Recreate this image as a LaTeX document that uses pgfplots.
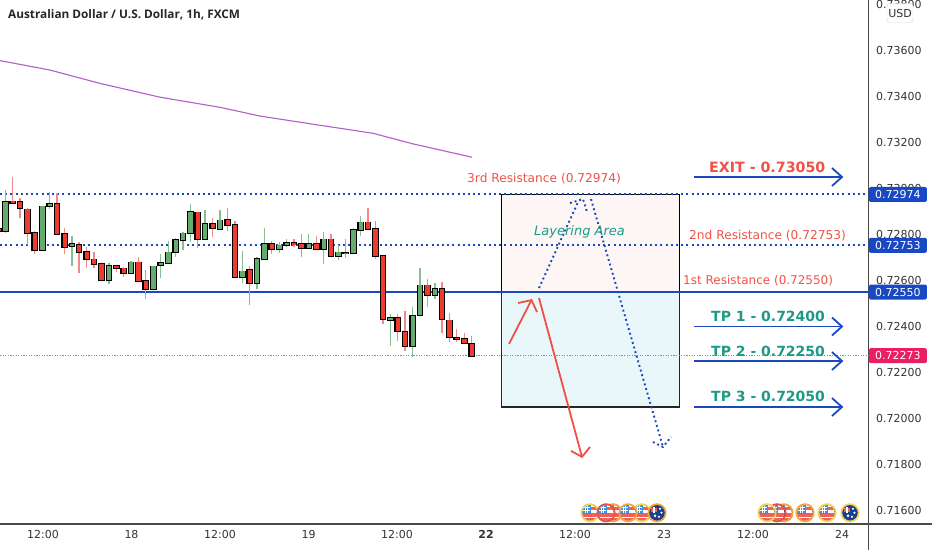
\documentclass[border=0pt]{standalone}
\usepackage{fontspec}
\setmainfont{DejaVu Sans}
\newfontfamily\titlefont{Open Sans}
\usepackage{pgfplots}
\usepackage{pgfplotstable}
\pgfplotsset{compat=1.18}

\definecolor{upbody}{HTML}{66AB6E}
\definecolor{upwick}{HTML}{88BE92}
\definecolor{dnbody}{HTML}{EE3B2E}
\definecolor{dnwick}{HTML}{F08A88}
\definecolor{lineblue}{HTML}{1A48BE}
\definecolor{tagblue}{HTML}{1848C4}
\definecolor{tagpink}{HTML}{E91E63}
\definecolor{teal2}{HTML}{1C9A86}
\definecolor{red2}{HTML}{EE5247}
\definecolor{maline}{HTML}{B15FC4}
\definecolor{axisgray}{HTML}{4A4A4A}
\definecolor{ringy}{HTML}{F7D352}
\definecolor{ringo}{HTML}{F4A63A}
\definecolor{ringr}{HTML}{E8503F}
\definecolor{zonetop}{HTML}{FEF6F4}
\definecolor{zonebot}{HTML}{E9F7FB}
\definecolor{flagblue}{HTML}{3F8FD8}
\definecolor{flagnavy}{HTML}{17408F}
\definecolor{flagred}{HTML}{F0605A}

% x column is the horizontal chart position of the bar
\pgfplotstableread{
x open high low close
5.3 0.72815 0.72993 0.72807 0.72941
42.3 0.72733 0.72924 0.72728 0.72924
49.7 0.72924 0.72985 0.72911 0.72933
72 0.72750 0.72794 0.72663 0.72759
109 0.72602 0.72676 0.72585 0.72663
131 0.72633 0.72685 0.72628 0.72680
153.3 0.72563 0.72663 0.72563 0.72663
160.7 0.72667 0.72715 0.72611 0.72676
168.3 0.72676 0.72772 0.72672 0.72724
175.7 0.72724 0.72785 0.72702 0.72776
183 0.72776 0.72811 0.72733 0.72807
190.3 0.72807 0.72933 0.72767 0.72898
205 0.72780 0.72907 0.72780 0.72846
220 0.72824 0.72907 0.72824 0.72863
242.3 0.72615 0.72728 0.72589 0.72641
257 0.72589 0.72702 0.72563 0.72693
264.3 0.72693 0.72828 0.72693 0.72759
279.3 0.72737 0.72767 0.72720 0.72754
286.7 0.72754 0.72780 0.72746 0.72763
308.7 0.72741 0.72802 0.72741 0.72759
323.7 0.72737 0.72811 0.72672 0.72780
338.3 0.72707 0.72754 0.72689 0.72724
353.3 0.72720 0.72828 0.72715 0.72820
360.7 0.72820 0.72880 0.72794 0.72854
390.3 0.72428 0.72454 0.72315 0.72437
412.7 0.72315 0.72485 0.72267 0.72446
420 0.72450 0.72654 0.72450 0.72580
435 0.72537 0.72589 0.72520 0.72563
}\upbars

\pgfplotstableread{
x open high low close
-1 0.72824 0.72824 0.72815 0.72815
12.7 0.72945 0.73050 0.72937 0.72937
20 0.72941 0.72959 0.72872 0.72915
27.3 0.72911 0.72915 0.72754 0.72807
34.7 0.72807 0.72815 0.72715 0.72733
57 0.72933 0.72980 0.72802 0.72802
64.7 0.72802 0.72828 0.72715 0.72746
79 0.72754 0.72767 0.72633 0.72724
86.7 0.72724 0.72746 0.72654 0.72693
94 0.72693 0.72724 0.72654 0.72672
101.3 0.72672 0.72676 0.72602 0.72602
116.3 0.72663 0.72667 0.72637 0.72654
123.7 0.72654 0.72659 0.72615 0.72633
138.3 0.72680 0.72702 0.72598 0.72598
145.7 0.72598 0.72646 0.72520 0.72563
197.7 0.72898 0.72898 0.72741 0.72780
212.7 0.72846 0.72872 0.72789 0.72828
227.7 0.72863 0.72915 0.72815 0.72841
235 0.72841 0.72859 0.72615 0.72615
249.7 0.72646 0.72663 0.72493 0.72589
271.7 0.72759 0.72772 0.72715 0.72737
294 0.72763 0.72780 0.72746 0.72757
301.3 0.72759 0.72802 0.72702 0.72741
316.3 0.72759 0.72794 0.72733 0.72737
331 0.72780 0.72802 0.72707 0.72707
345.7 0.72722 0.72780 0.72698 0.72718
368 0.72854 0.72915 0.72824 0.72824
375.3 0.72824 0.72859 0.72693 0.72707
383 0.72707 0.72707 0.72411 0.72433
397.7 0.72437 0.72454 0.72337 0.72380
405 0.72376 0.72467 0.72293 0.72315
427.3 0.72580 0.72607 0.72485 0.72537
442 0.72563 0.72593 0.72372 0.72433
449.3 0.72428 0.72459 0.72333 0.72354
456.7 0.72352 0.72389 0.72333 0.72346
464.3 0.72346 0.72372 0.72324 0.72328
471.7 0.72324 0.72359 0.72272 0.72272
}\dnbars

% wicks then black outline then coloured body
\newcommand\candles[3]{%
  \addplot[draw=none, forget plot, error bars/.cd, y dir=both, y explicit, error mark=none,
    error bar style={draw=#2, line width=1.4pt, line cap=butt, solid}]
    table[x=x, y expr=(\thisrow{high}+\thisrow{low})/2, y error expr=(\thisrow{high}-\thisrow{low})/2] {#1};
  \addplot[draw=none, forget plot, error bars/.cd, y dir=both, y explicit, error mark=none,
    error bar style={draw=black, line width=6.6pt, line cap=butt, solid}]
    table[x=x, y expr=(\thisrow{open}+\thisrow{close})/2, y error expr=abs(\thisrow{open}-\thisrow{close})/2+0.00003] {#1};
  \addplot[draw=none, forget plot, error bars/.cd, y dir=both, y explicit, error mark=none,
    error bar style={draw=#3, line width=4.4pt, line cap=butt, solid}]
    table[x=x, y expr=(\thisrow{open}+\thisrow{close})/2, y error expr=abs(\thisrow{open}-\thisrow{close})/2] {#1};
}

% event badges along the bottom of the chart
\newcommand\declareusflag[2]{%
  \pgfdeclareplotmark{#1}{%
    \begin{scope}
      \clip (0pt,0pt) circle (7.8pt);
      \fill[white] (-8pt,-8pt) rectangle (8pt,8pt);
      \fill[flagred] (0pt,3.6pt) rectangle (8pt,5.6pt);
      \fill[flagred] (-8pt,-3pt) rectangle (8pt,0pt);
      \fill[flagred] (-8pt,-8pt) rectangle (8pt,-5pt);
      \fill[flagblue] (-8pt,0pt) rectangle (0pt,8pt);
      \draw[white, line width=0.6pt] (-5pt,0pt) -- (-5pt,8pt) (-2.5pt,0pt) -- (-2.5pt,8pt) (-8pt,2.6pt) -- (0pt,2.6pt) (-8pt,5.2pt) -- (0pt,5.2pt);
    \end{scope}
    \draw[#2, line width=1.7pt] (0pt,0pt) circle (8.7pt);
  }%
}
\newcommand\declareauflag[2]{%
  \pgfdeclareplotmark{#1}{%
    \fill[flagnavy] (0pt,0pt) circle (8pt);
    \fill[flagred] (-6pt,2pt) rectangle (-1pt,5pt);
    \fill[white] (-4pt,1pt) rectangle (-3pt,6pt);
    \fill[white] (3pt,4pt) circle (0.9pt) (4.5pt,0pt) circle (0.9pt) (2pt,-4pt) circle (0.9pt) (-2pt,-3pt) circle (1.1pt);
    \draw[#2, line width=1.7pt] (0pt,0pt) circle (8.7pt);
  }%
}
\declareusflag{usy}{ringy}
\declareusflag{uso}{ringo}
\declareusflag{usr}{ringr}
\declareauflag{auo}{ringo}
\declareauflag{auy}{ringy}
\newcommand\evt[2]{\addplot[only marks, forget plot, mark=#1] coordinates {(#2,0.71590)};}

\newcommand\tagbox[3]{\node[fill=#1, text=white, rounded corners=1.5pt, minimum width=58pt, minimum height=15pt, inner sep=0pt, anchor=west, font=\fontsize{11}{13}\selectfont] at (axis cs:868.7,#2) {#3};}

\begin{document}
\begin{tikzpicture}
\path[use as bounding box] (0,0) rectangle (932pt,550pt);
\begin{axis}[
  at={(0pt,26pt)}, anchor=south west,
  scale only axis, width=868.5pt, height=524pt,
  xmin=0, xmax=868.5, ymin=0.715413, ymax=0.738196,
  clip=false,
  axis x line*=bottom, axis y line*=right,
  axis line style={draw=axisgray, line width=1.2pt, -},
  major tick length=0pt,
  tick label style={text=black!80, font=\fontsize{11}{13}\selectfont},
  xtick={43,131.5,220,308.5,397,486,575,664,753,842},
  xticklabels={12:00,18,12:00,19,12:00,\textbf{22},12:00,23,12:00,24},
  x tick label style={yshift=-3pt},
  ytick={0.716,0.718,0.720,0.722,0.724,0.726,0.728,0.730,0.732,0.734,0.736,0.738},
  yticklabels={0.71600,0.71800,0.72000,0.72200,0.72400,0.72600,0.72800,0.73000,0.73200,0.73400,0.73600,0.73800},
  y tick label style={anchor=west, xshift=4pt},
]
% areas
\addplot[fill=zonetop, draw=black, line width=1.2pt] coordinates {(501.7,0.72974)(679.3,0.72974)(679.3,0.72550)(501.7,0.72550)} --cycle;
\addplot[fill=zonebot, draw=black!85, line width=1.2pt] coordinates {(501.7,0.72550)(679.3,0.72550)(679.3,0.72050)(501.7,0.72050)} --cycle;

% levels
\addplot[lineblue, line width=2pt, dash pattern=on 2pt off 3.2pt] coordinates {(0,0.72974)(868.5,0.72974)};
\addplot[lineblue, line width=2pt, dash pattern=on 2pt off 3.2pt] coordinates {(0,0.72753)(868.5,0.72753)};
\addplot[lineblue, line width=1.9pt] coordinates {(0,0.72550)(868.5,0.72550)};
\addplot[tagpink!75, line width=1pt, dash pattern=on 1.2pt off 1.4pt] coordinates {(0,0.72273)(868.5,0.72273)};

% moving average
\addplot[maline, line width=1.1pt] coordinates {(0,0.73556)(50,0.73515)(100,0.73457)(160,0.73397)(220,0.73353)(260,0.73315)(320,0.73275)(373,0.73240)(413,0.73194)(472,0.73136)};

\candles{\upbars}{upwick}{upbody}
\candles{\dnbars}{dnwick}{dnbody}

% target arrows
\addplot[lineblue, line width=1.8pt] coordinates {(694,0.73050)(842,0.73050)};
\addplot[lineblue, line width=1.8pt] coordinates {(832,0.73089)(842,0.73050)(832,0.73011)};
\addplot[lineblue, line width=1.8pt] coordinates {(694,0.72400)(842,0.72400)};
\addplot[lineblue, line width=1.8pt] coordinates {(832,0.72439)(842,0.72400)(832,0.72361)};
\addplot[lineblue, line width=1.8pt] coordinates {(694,0.72250)(842,0.72250)};
\addplot[lineblue, line width=1.8pt] coordinates {(832,0.72289)(842,0.72250)(832,0.72211)};
\addplot[lineblue, line width=1.8pt] coordinates {(694,0.72050)(842,0.72050)};
\addplot[lineblue, line width=1.8pt] coordinates {(832,0.72089)(842,0.72050)(832,0.72011)};

% hand drawn red arrows
\addplot[red2, line width=1.8pt] coordinates {(509,0.72324)(531.5,0.72515)};
\addplot[red2, line width=1.8pt] coordinates {(518,0.72502)(531.5,0.72515)(537,0.72463)};
\addplot[dnbody!90, line width=1.8pt] coordinates {(539,0.72524)(582,0.71833)};
\addplot[dnbody!90, line width=1.8pt] coordinates {(571,0.71859)(582,0.71833)(590,0.71876)};

% dotted paths
\addplot[lineblue, line width=1.9pt, dash pattern=on 1.9pt off 2.9pt] coordinates {(539,0.72567)(578,0.72941)};
\addplot[lineblue, line width=1.9pt, dash pattern=on 1.9pt off 2.9pt] coordinates {(570,0.72937)(583,0.72954)(587,0.72898)};
\addplot[lineblue, line width=1.9pt, dash pattern=on 1.9pt off 2.9pt] coordinates {(591,0.72954)(663,0.71876)};
\addplot[lineblue, line width=1.9pt, dash pattern=on 1.9pt off 2.9pt] coordinates {(653,0.71898)(663,0.71876)(671,0.71920)};

% events
\evt{usy}{590}\evt{uso}{613}\evt{usr}{606}\evt{usy}{642}\evt{uso}{628}\evt{auo}{657}
\evt{uso}{784}\evt{usr}{777}\evt{usy}{767}\evt{uso}{805}\evt{usy}{827}\evt{auy}{850}

% text
\node[anchor=west, text=black!85, font=\titlefont\bfseries\fontsize{11.8}{15}\selectfont, inner sep=0pt] at (axis cs:8,0.73754) {Australian Dollar / U.S. Dollar, 1h, FXCM};
\node[anchor=west, text=red2, inner sep=0pt, font=\fontsize{12.2}{14}\selectfont] at (axis cs:467,0.73041) {3rd Resistance (0.72974)};
\node[anchor=west, text=red2, inner sep=0pt, font=\fontsize{12.2}{14}\selectfont] at (axis cs:689,0.72794) {2nd Resistance (0.72753)};
\node[anchor=west, text=red2, inner sep=0pt, font=\fontsize{12}{14}\selectfont] at (axis cs:683,0.72598) {1st Resistance (0.72550)};
\node[anchor=west, text=red2, inner sep=0pt, font=\bfseries\fontsize{14.2}{16}\selectfont] at (axis cs:709,0.73094) {EXIT - 0.73050};
\node[anchor=west, text=teal2, inner sep=0pt, font=\bfseries\fontsize{14}{16}\selectfont] at (axis cs:711,0.72446) {TP 1 - 0.72400};
\node[anchor=west, text=teal2, inner sep=0pt, font=\bfseries\fontsize{14}{16}\selectfont] at (axis cs:711,0.72293) {TP 2 - 0.72250};
\node[anchor=west, text=teal2, inner sep=0pt, font=\bfseries\fontsize{14}{16}\selectfont] at (axis cs:711,0.72098) {TP 3 - 0.72050};
\node[anchor=west, text=teal2, inner sep=0pt, font=\itshape\fontsize{13}{15}\selectfont] at (axis cs:534,0.72811) {Layering Area};

% price tags
\tagbox{tagblue}{0.72974}{0.72974}
\tagbox{tagblue}{0.72753}{0.72753}
\tagbox{tagblue}{0.72550}{0.72550}
\tagbox{tagpink}{0.72273}{0.72273}
\node[draw=black!15, fill=white, rounded corners=3pt, minimum width=26pt, minimum height=19pt, inner sep=0pt, text=black!80, font=\fontsize{11}{13}\selectfont] at (axis cs:900,0.73763) {USD};

\draw[axisgray, line width=1.2pt] (rel axis cs:1,0) -- ++(0pt,-26pt);
\draw[axisgray, line width=1.2pt] (rel axis cs:1,0) -- ++(64pt,0pt);
\end{axis}
\end{tikzpicture}
\end{document}
